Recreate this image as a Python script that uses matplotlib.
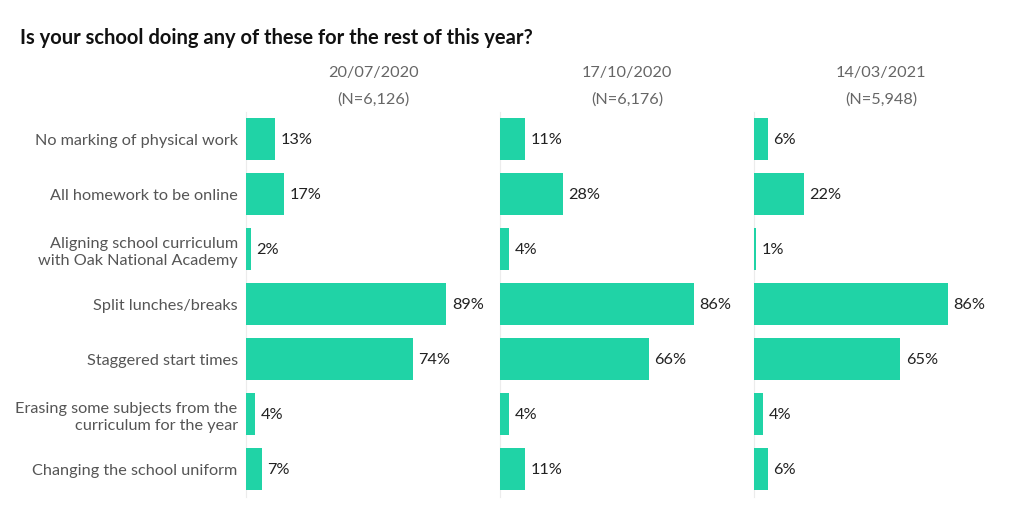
import matplotlib.pyplot as plt

plt.rcParams['font.family'] = ['Lato', 'DejaVu Sans']

categories = [
    "No marking of physical work",
    "All homework to be online",
    "Aligning school curriculum\nwith Oak National Academy",
    "Split lunches/breaks",
    "Staggered start times",
    "Erasing some subjects from the\ncurriculum for the year",
    "Changing the school uniform",
]
dates = ["20/07/2020", "17/10/2020", "14/03/2021"]
sizes = ["(N=6,126)", "(N=6,176)", "(N=5,948)"]
jul_2020 = [13, 17, 2, 89, 74, 4, 7]
oct_2020 = [11, 28, 4, 86, 66, 4, 11]
mar_2021 = [6, 22, 1, 86, 65, 4, 6]
panels = [jul_2020, oct_2020, mar_2021]

teal = "#20d3a6"
W, H = 1024, 512
fig = plt.figure(figsize=(W / 100, H / 100), dpi=100)

fig.text(20 / W, 1 - 37.5 / H, "Is your school doing any of these for the rest of this year?",
         fontsize=14.5, fontweight='bold', color='#111111', va='center', ha='left')

left0 = 246
step = 254
top = 111.5
bottom = 496.5
for i, vals in enumerate(panels):
    ax = fig.add_axes([(left0 + i * step) / W, 1 - bottom / H, step / W, (bottom - top) / H])
    y = range(len(vals))
    ax.barh(y, vals, height=0.75, color=teal, zorder=3)
    for yi, v in zip(y, vals):
        ax.text(v + 2.5, yi + 0.02, f"{v}%", va='center', ha='left', fontsize=11.7, color='#222222')
    ax.set_xlim(0, step / 2.25)
    ax.set_ylim(len(vals) - 0.5, -0.5)
    for s in ['top', 'right', 'bottom']:
        ax.spines[s].set_visible(False)
    ax.spines['left'].set_color('#ececec')
    ax.spines['left'].set_linewidth(0.8)
    ax.set_xticks([])
    ax.tick_params(axis='y', length=0, pad=6)
    if i == 0:
        ax.set_yticks(list(y))
        ax.set_yticklabels(categories, fontsize=11.7, color='#555555', linespacing=1.35)
    else:
        ax.set_yticks([])
    cx = (left0 + i * step + 127) / W
    fig.text(cx, 1 - 73.5 / H, dates[i], ha='center', va='center', fontsize=11.7, color='#666666')
    fig.text(cx, 1 - 99.5 / H, sizes[i], ha='center', va='center', fontsize=11.7, color='#666666')

fig.savefig("out.png", dpi=100, facecolor='white')
